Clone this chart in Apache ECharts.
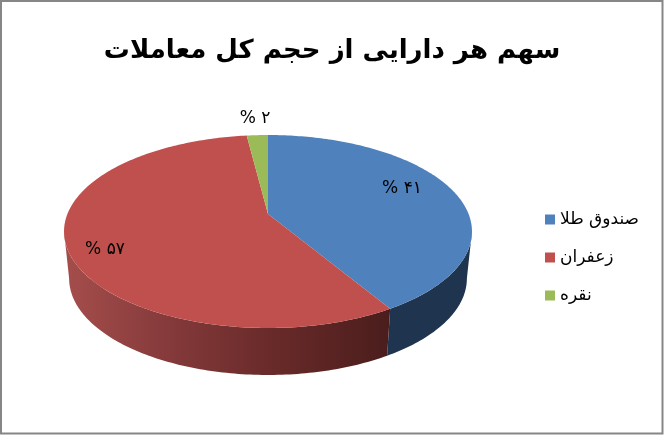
<!DOCTYPE html>
<html><head><meta charset="utf-8">
<style>html,body{margin:0;padding:0;background:#fff}#c{width:664px;height:435px}</style>
<script src="https://cdn.jsdelivr.net/npm/echarts@6/dist/echarts.min.js"></script>
</head><body><div id="c"></div>
<script>
const titleText = 'سهم هر دارایی از حجم کل معاملات';
const categories = ['صندوق طلا', 'زعفران', 'نقره'];
const values = [41.4, 56.6, 2];
const labelTexts = ['% ۴۱', '% ۵۷', '% ۲'];
const topColors = ['#4f81bd', '#c0504d', '#9bbb59'];

// styling / geometry of the tilted disc
const FONT = '"DejaVu Sans"';
const APEX = {x: 268, y: 214}, R = 200.6, S = 93.3, K = 0.1813;
const DEPTH = 47, BOTTOM_SCALE = 0.975;
const LABEL_POS = [[402, 189], [105, 250], [255, 119]];
const total = values.reduce((a, b) => a + b, 0);
const SIL = Math.acos(-K);            // silhouette angle of the disc
const toTop = t => {
  const u = Math.sin(t), v = Math.cos(t), w = 1 + K * v;
  return [APEX.x + R * u / w, APEX.y - S * v / w];
};
const toBottom = t => {
  const p = toTop(t);
  return [APEX.x + (p[0] - APEX.x) * BOTTOM_SCALE, p[1] + DEPTH];
};
const arc = (a, b, f) => {
  const n = Math.max(2, Math.ceil(Math.abs(b - a) * 60)), pts = [];
  for (let i = 0; i <= n; i++) pts.push(f(a + (b - a) * i / n));
  return pts;
};
const wallFill = [
  '#1f344f',
  new echarts.graphic.LinearGradient(64, 0, 391, 0, [
    {offset: 0, color: '#a54e4c'},
    {offset: 0.33, color: '#84393a'},
    {offset: 0.62, color: '#6a2b2a'},
    {offset: 1, color: '#4a1d1c'}
  ], true),
  '#6d7f3e'
];
function renderer(idx) {
  return function (params, api) {
    const before = values.slice(0, idx).reduce((a, b) => a + b, 0);
    const a0 = before / total * 2 * Math.PI;
    const a1 = (before + api.value(0)) / total * 2 * Math.PI;
    const children = [];
    const w0 = Math.max(a0, SIL), w1 = Math.min(a1, 2 * Math.PI - SIL);
    if (w1 > w0) {
      children.push({type: 'polygon', silent: true,
        shape: {points: arc(w0, w1, toTop).concat(arc(w1, w0, toBottom))},
        style: {fill: wallFill[idx]}});
    }
    children.push({type: 'polygon', silent: true,
      shape: {points: [[APEX.x, APEX.y]].concat(arc(a0, a1, toTop))},
      style: {fill: topColors[idx]}});
    children.push({type: 'text', silent: true, z2: 10,
      style: {text: labelTexts[idx], x: LABEL_POS[idx][0], y: LABEL_POS[idx][1],
        align: 'center', verticalAlign: 'middle', fill: '#000',
        font: '17px ' + FONT}});
    return {type: 'group', children};
  };
}
const chart = echarts.init(document.getElementById('c'), null, {renderer: 'canvas'});
chart.setOption({
  animation: false,
  backgroundColor: '#fff',
  color: topColors,
  title: {text: titleText, left: 'center', top: 33,
    textStyle: {fontFamily: FONT, fontSize: 26, fontWeight: 'bold', color: '#000'}},
  legend: {orient: 'vertical', left: 545, top: 211, padding: 0, itemWidth: 10, itemHeight: 10,
    itemGap: 21, icon: 'rect', itemStyle: {borderWidth: 0},
    selectedMode: false, data: categories,
    textStyle: {fontFamily: FONT, fontSize: 17, color: '#000'}},
  graphic: [{type: 'rect', silent: true, z: 100,
    shape: {x: 1, y: 1, width: 661.5, height: 432.5},
    style: {fill: 'none', stroke: '#868686', lineWidth: 2}}],
  series: categories.map((name, i) => ({
    type: 'custom', name, coordinateSystem: 'none', silent: true,
    itemStyle: {color: topColors[i]},
    data: [[values[i]]], renderItem: renderer(i)
  }))
});
</script></body></html>
